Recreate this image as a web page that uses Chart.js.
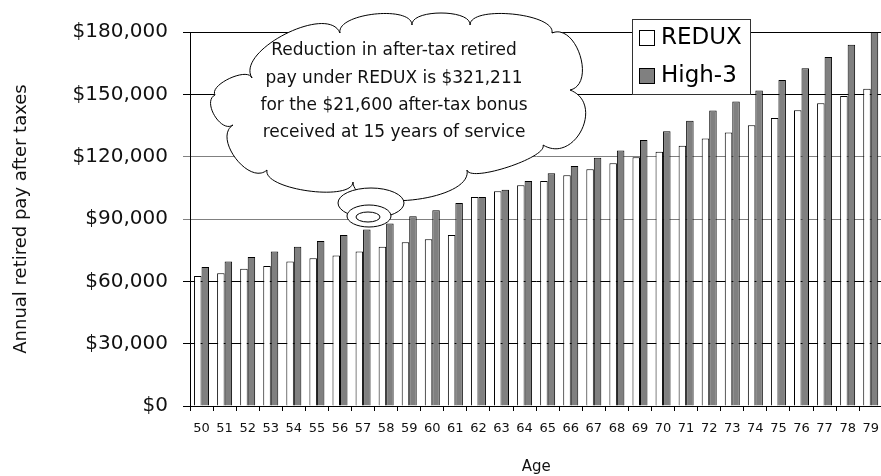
<!DOCTYPE html>
<html>
<head>
<meta charset="utf-8">
<script src="https://cdn.jsdelivr.net/npm/chart.js@4/dist/chart.umd.min.js"></script>
<style>
  html, body { margin: 0; background: #fff; overflow: hidden; }
  #wrap { width: 889px; height: 476px; position: relative; }
</style>
</head>
<body>
<div id="wrap"><canvas id="payChart"></canvas></div>
<script>
// Ages on the x axis
const ages = ["50", "51", "52", "53", "54", "55", "56", "57", "58", "59",
  "60", "61", "62", "63", "64", "65", "66", "67", "68", "69",
  "70", "71", "72", "73", "74", "75", "76", "77", "78", "79"]

// Annual retired pay after taxes
const reduxPay = [62600, 63900, 66100, 67400, 69500, 71100, 72400, 74400, 76700, 78800,
  80200, 82300, 100600, 103300, 106200, 108300, 111100, 113900, 116800, 119700,
  122400, 125300, 128800, 131600, 135100, 138600, 142300, 145700, 149200, 152700]
const high3Pay = [66900, 69500, 71700, 74300, 76700, 79400, 82300, 85000, 87800, 91300,
  94200, 97700, 100600, 104100, 108300, 112000, 115500, 119500, 123000, 128000,
  132200, 137300, 142200, 146500, 151900, 156900, 162500, 168000, 173900, 180000]

const yTickValues = [0, 30000, 60000, 90000, 120000, 150000, 180000]

const calloutLines = [
  "Reduction in after-tax retired",
  "pay under REDUX is $321,211",
  "for the $21,600 after-tax bonus",
  "received at 15 years of service",
]

const FONT = "DejaVu Sans"
Chart.defaults.font.family = FONT
Chart.defaults.color = "#000"

// Thought cloud with the callout text
const cloudPlugin = {
  id: "cloud",
  afterDatasetsDraw(chart) {
    const ctx = chart.ctx
    // cusp points around the cloud, with how far each lobe bulges out
    const pts = [[252, 78], [340, 33], [412, 25], [470, 25], [552, 33], [570, 90],
      [543, 145], [467, 170], [353, 182], [267, 170], [233, 125], [215, 95]]
    const sag = [24, 15, 12, 15, 20, 28, 10, 24, 15, 18, 11, 9]
    const cx = 404, cy = 108
    ctx.save()
    ctx.beginPath()
    ctx.moveTo(pts[0][0], pts[0][1])
    for (let i = 0; i < pts.length; i++) {
      const p = pts[i]
      const q = pts[(i + 1) % pts.length]
      const dx = q[0] - p[0], dy = q[1] - p[1]
      const len = Math.hypot(dx, dy)
      let nx = dy / len, ny = -dx / len
      const mx = (p[0] + q[0]) / 2 - cx, my = (p[1] + q[1]) / 2 - cy
      if (nx * mx + ny * my < 0) { nx = -nx; ny = -ny }
      const d = sag[i] * 4 / 3
      const tx = dx / len * sag[i] * 0.12, ty = dy / len * sag[i] * 0.12
      ctx.bezierCurveTo(p[0] + nx * d - tx, p[1] + ny * d - ty,
        q[0] + nx * d + tx, q[1] + ny * d + ty, q[0], q[1])
    }
    ctx.closePath()
    ctx.fillStyle = "#fff"
    ctx.fill()
    ctx.strokeStyle = "#000"
    ctx.lineWidth = 1
    ctx.stroke()

    // bubbles under the cloud
    const ellipses = [[371, 203, 33, 15], [369, 216, 22, 11], [368, 217, 12, 5]]
    ellipses.forEach(e => {
      ctx.beginPath()
      ctx.ellipse(e[0], e[1], e[2], e[3], 0, 0, Math.PI * 2)
      ctx.fillStyle = "#fff"
      ctx.fill()
      ctx.stroke()
    })

    ctx.fillStyle = "#111"
    ctx.font = "17px '" + FONT + "'"
    ctx.textAlign = "center"
    ctx.textBaseline = "middle"
    calloutLines.forEach((line, i) => {
      ctx.fillText(line, 394, 51 + i * 27.3)
    })
    ctx.restore()
  },
}

// Boxed legend sitting over the top of the plot
const legendBoxPlugin = {
  id: "legendBox",
  afterDraw(chart) {
    const ctx = chart.ctx
    const x = 632, y = 19, w = 118, h = 75
    ctx.save()
    ctx.fillStyle = "#fff"
    ctx.fillRect(x, y, w, h)
    ctx.strokeStyle = "#333"
    ctx.lineWidth = 1
    ctx.strokeRect(x + 0.5, y + 0.5, w, h)
    ctx.font = "23px '" + FONT + "'"
    ctx.textBaseline = "middle"
    chart.data.datasets.forEach((ds, i) => {
      const rowY = 38 + i * 38
      ctx.fillStyle = ds.backgroundColor
      ctx.fillRect(639.5, rowY - 7.5, 15, 15)
      ctx.strokeStyle = "#000"
      ctx.strokeRect(639.5, rowY - 7.5, 15, 15)
      ctx.fillStyle = "#000"
      ctx.fillText(ds.label, 661, rowY)
    })
    ctx.restore()
  },
}

const ctx = document.getElementById("payChart").getContext("2d")
new Chart(ctx, {
  type: "bar",
  data: {
    labels: ages,
    datasets: [
      {
        label: "REDUX",
        data: reduxPay,
        backgroundColor: "#ffffff",
        borderColor: "#000",
        borderWidth: 1,
        barPercentage: 1.0,
        categoryPercentage: 0.65,
      },
      {
        label: "High-3",
        data: high3Pay,
        backgroundColor: "#808080",
        borderColor: "#000",
        borderWidth: 1,
        barPercentage: 1.0,
        categoryPercentage: 0.65,
      },
    ],
  },
  options: {
    responsive: true,
    maintainAspectRatio: false,
    animation: false,
    layout: {
      padding: { top: 32, right: 0, left: 0, bottom: 0 },
    },
    plugins: {
      legend: { display: false },
      tooltip: { enabled: false },
    },
    scales: {
      x: {
        afterFit: (scale) => { scale.height = 70 },
        grid: {
          display: true,
          drawOnChartArea: false,
          drawTicks: true,
          tickLength: 5,
          color: "#000",
        },
        border: { display: true, color: "#000" },
        ticks: {
          font: { size: 13 },
          padding: 10,
          maxRotation: 0,
          autoSkip: false,
          color: "#111",
        },
        title: {
          display: true,
          text: "Age",
          font: { size: 15 },
          padding: { top: 0, bottom: 0 },
          color: "#111",
        },
      },
      y: {
        min: 0,
        max: 180000,
        afterFit: (scale) => { scale.width = 190 },
        afterBuildTicks: (scale) => {
          scale.ticks = yTickValues.map(v => ({ value: v }))
        },
        grid: {
          color: (c) => (c.tick && (c.tick.value === 90000 || c.tick.value === 120000)) ? "#808080" : "#000",
          tickLength: 7,
        },
        border: { display: true, color: "#000" },
        ticks: {
          font: { size: 20 },
          padding: 15,
          color: "#111",
          callback: (v) => "$" + Number(v).toLocaleString("en-US"),
        },
        title: {
          display: true,
          text: "Annual retired pay after taxes",
          font: { size: 18 },
          padding: { top: 11, bottom: 0 },
          color: "#111",
        },
      },
    },
  },
  plugins: [cloudPlugin, legendBoxPlugin],
})
</script>
</body>
</html>
